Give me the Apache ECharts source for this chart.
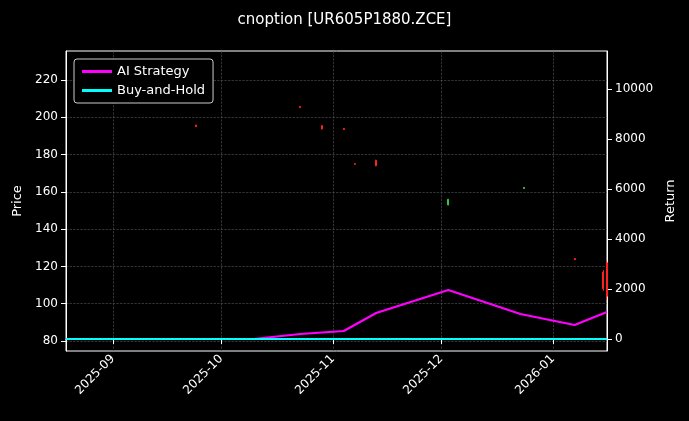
<!DOCTYPE html>
<html><head><meta charset="utf-8">
<script src="https://cdn.jsdelivr.net/npm/echarts@6/dist/echarts.min.js"></script>
<style>html,body{margin:0;background:#000}#c{width:689px;height:421px}</style>
</head><body><div id="c"></div>
<script>
// candles: [date, open, close, low, high]
const candles = [
    ['2025-09-24', 195.8, 195.0, 194.8, 196.0],
    ['2025-10-23', 205.8, 205.2, 205.0, 206.0],
    ['2025-10-29', 195.5, 193.8, 193.5, 195.8],
    ['2025-11-04', 194.0, 193.4, 193.2, 194.2],
    ['2025-11-07', 175.2, 174.8, 174.6, 175.4],
    ['2025-11-13', 177.0, 174.0, 173.8, 177.2],
    ['2025-12-03', 153.0, 156.0, 152.8, 156.2],
    ['2025-12-24', 161.8, 162.4, 161.6, 162.6],
    ['2026-01-07', 124.2, 123.6, 123.4, 124.4],
    ['2026-01-15', 117.0, 108.0, 107.0, 118.0],
    ['2026-01-16', 122.0, 104.0, 102.0, 123.0]
];
const aiDates = ['2025-08-19', '2025-10-10', '2025-10-23', '2025-11-04', '2025-11-13', '2025-12-03', '2025-12-23', '2026-01-07', '2026-01-16'];
const aiReturns = [0, 0, 200, 320, 1040, 1960, 1000, 560, 1080];
const bhDates = ['2025-08-19', '2026-01-16'];
const bhReturns = [0, 0];
const priceTicks = [80, 100, 120, 140, 160, 180, 200, 220];
const returnTicks = [0, 2000, 4000, 6000, 8000, 10000];

const white = '#fff';
const gridLine = { show: true, lineStyle: { color: '#555', type: 'dashed', width: 0.6 } };
const chart = echarts.init(document.getElementById('c'));
chart.setOption({
    backgroundColor: '#000',
    animation: false,
    textStyle: { fontFamily: 'DejaVu Sans' },
    title: { text: 'cnoption [UR605P1880.ZCE]', left: 'center', top: 8,
        textStyle: { color: white, fontSize: 15, fontWeight: 'normal' } },
    legend: {
        left: 74, top: 59, orient: 'vertical', itemGap: 6, itemWidth: 30, itemHeight: 3,
        borderColor: '#ccc', borderWidth: 1, borderRadius: 3, padding: [6, 8],
        backgroundColor: '#000',
        textStyle: { color: white, fontSize: 13 },
        data: [{ name: 'AI Strategy', icon: 'rect' }, { name: 'Buy-and-Hold', icon: 'rect' }]
    },
    grid: { left: 66, right: 82, top: 51, bottom: 70, outerBoundsMode: 'none', containLabel: false,
        show: true, borderColor: white, borderWidth: 1, backgroundColor: 'transparent' },
    xAxis: {
        type: 'time', min: '2025-08-19', max: '2026-01-16',
        axisLine: { show: true, lineStyle: { color: white } },
        axisTick: { show: true, lineStyle: { color: white } },
        axisLabel: { color: white, fontSize: 12, rotate: 45, hideOverlap: false, margin: 6,
            formatter: v => { const d = new Date(v); return d.getDate() === 1 ? echarts.time.format(v, '{yyyy}-{MM}', false) : ''; } },
        splitLine: gridLine,
        splitNumber: 6
    },
    yAxis: [{
        type: 'value', name: 'Price', nameLocation: 'middle', nameGap: 42,
        nameTextStyle: { color: white, fontSize: 13 },
        min: 74.6, max: 235.6,
        axisLine: { show: true, lineStyle: { color: white } },
        axisTick: { show: true, customValues: priceTicks },
        axisLabel: { color: white, fontSize: 12, customValues: priceTicks },
        splitLine: gridLine
    }, {
        type: 'value', name: 'Return', nameLocation: 'middle', nameGap: 52,
        nameTextStyle: { color: white, fontSize: 13 },
        min: -480, max: 11520,
        axisLine: { show: true, lineStyle: { color: white } },
        axisTick: { show: true, customValues: returnTicks },
        axisLabel: { color: white, fontSize: 12, customValues: returnTicks, formatter: v => String(v) },
        splitLine: { show: false }
    }],
    series: [{
        type: 'candlestick', yAxisIndex: 0, barWidth: 1.5,
        itemStyle: { color: '#2ecc40', color0: '#ff2020', borderColor: '#2ecc40', borderColor0: '#ff2020', borderWidth: 1 },
        data: candles
    }, {
        name: 'AI Strategy', type: 'line', yAxisIndex: 1, symbol: 'none',
        lineStyle: { color: '#ff00ff', width: 2.2 }, itemStyle: { color: '#ff00ff' },
        data: aiDates.map((d, i) => [d, aiReturns[i]])
    }, {
        name: 'Buy-and-Hold', type: 'line', yAxisIndex: 1, symbol: 'none',
        lineStyle: { color: '#00ffff', width: 2.2 }, itemStyle: { color: '#00ffff' },
        data: bhDates.map((d, i) => [d, bhReturns[i]])
    }]
});
</script></body></html>
